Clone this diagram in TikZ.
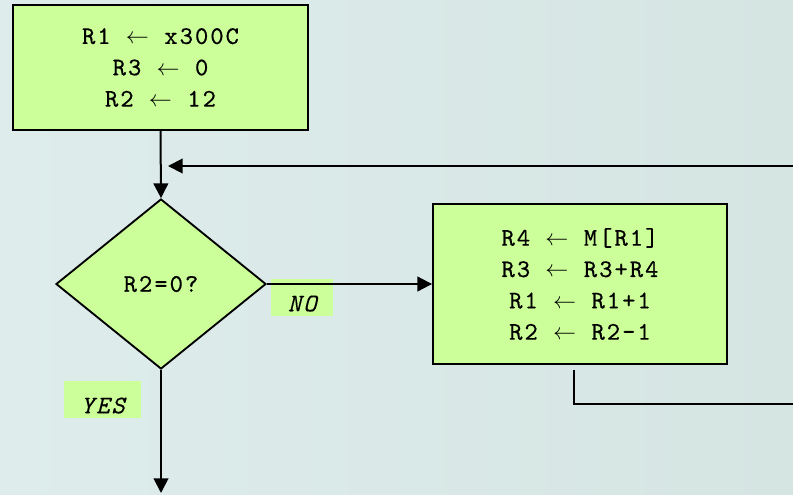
\documentclass[tikz,border=0pt]{standalone}
\usepackage{fontspec}
\usetikzlibrary{shapes.geometric,arrows.meta}
\newfontfamily\codefont[LetterSpace=8,FakeBold=0.5,ItalicFont=lmmono10-italic.otf,ItalicFeatures={FakeBold=0.2}]{lmmono10-regular.otf}
\definecolor{boxgreen}{HTML}{CCFF99}
\definecolor{bgA}{HTML}{DEEDEC}
\definecolor{bgB}{HTML}{D5E5E2}
\tikzset{
  pbox/.style={draw=black, line width=1.4pt, fill=boxgreen, inner sep=0pt, align=center,
    font=\codefont\fontsize{19}{23.5}\selectfont},
  decision/.style={diamond, draw=black, line width=1.4pt, fill=boxgreen, inner sep=0pt,
    minimum width=157.5pt, minimum height=127.5pt, font=\codefont\fontsize{19}{21}\selectfont},
  lab/.style={fill=boxgreen, inner sep=0pt, text height=24pt, text depth=3.75pt,
    anchor=north west, font=\codefont\itshape\fontsize{19}{21}\selectfont},
  conn/.style={line width=1.5pt, draw=black},
  arr/.style={conn, -{Triangle[length=11pt,width=11pt]}}
}
\begin{document}
\begin{tikzpicture}[x=0.75pt,y=-0.75pt]
\useasboundingbox (0,0) rectangle (793,494);
\shade[shading=axis, shading angle=60, left color=bgA, right color=bgB] (0,0) rectangle (793,494);

\node[pbox, minimum width=221.25pt, minimum height=93.75pt] (init) at (160.5,67.5)
  {R1 $\leftarrow$ x300C\\R3 $\leftarrow$ 0\\R2 $\leftarrow$ 12};
\node[decision] (test) at (161,284) {R2=0?};
\node[pbox, minimum width=220.5pt, minimum height=120pt] (body) at (580,284)
  {R4 $\leftarrow$ M[R1]\\R3 $\leftarrow$ R3+R4\\R1 $\leftarrow$ R1+1\\R2 $\leftarrow$ R2-1};

\node[lab, minimum width=46.5pt] (no) at (271,279) {NO};
\node[lab, minimum width=57.75pt] (yes) at (64,381) {YES};

\coordinate (loopin) at (793,166);
\coordinate (looptip) at (168,166);
\coordinate (loopout) at (793,404);
\coordinate (exitend) at (161,493);

\draw[arr] (init.south) -- (test.north);
\draw[arr] (test.east) -- (body.west);
\draw[arr] (test.south) -- (exitend);
\draw[arr] (loopin) -- (looptip);
\draw[conn] ([xshift=-4.5pt,yshift=-3.75pt]body.south) |- (loopout);
\end{tikzpicture}
\end{document}
